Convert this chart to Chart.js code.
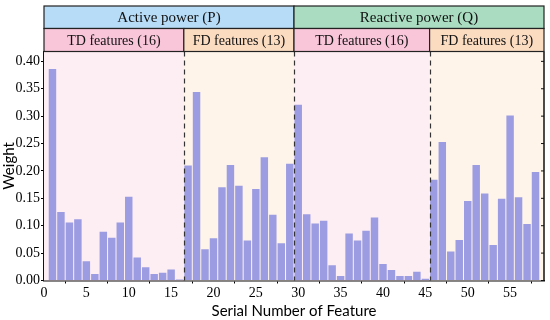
<!DOCTYPE html>
<html>
<head>
<meta charset="utf-8">
<script src="https://cdn.jsdelivr.net/npm/chart.js@4.4.0/dist/chart.umd.min.js"></script>
<style>
  html, body { margin: 0; padding: 0; background: #fff; }
  #wrap { width: 550px; height: 320px; }
</style>
</head>
<body>
<div id="wrap"><canvas id="weightChart" width="550" height="320"></canvas></div>
<script>
// Feature numbers and their weights
const featureIds = [
  1, 2, 3, 4, 5, 6, 7, 8, 9, 10, 11, 12, 13, 14, 15, 16,
  17, 18, 19, 20, 21, 22, 23, 24, 25, 26, 27, 28, 29,
  30, 31, 32, 33, 34, 35, 36, 37, 38, 39, 40, 41, 42, 43, 44, 45,
  46, 47, 48, 49, 50, 51, 52, 53, 54, 55, 56, 57, 58
];
const weights = [
  0.386, 0.125, 0.106, 0.112, 0.035, 0.012, 0.089, 0.078, 0.106, 0.153, 0.042, 0.024, 0.012, 0.014, 0.020, 0.002,
  0.210, 0.344, 0.057, 0.077, 0.170, 0.211, 0.173, 0.073, 0.167, 0.225, 0.120, 0.068, 0.213,
  0.321, 0.121, 0.104, 0.109, 0.028, 0.008, 0.086, 0.073, 0.091, 0.115, 0.030, 0.019, 0.008, 0.008, 0.016, 0.003,
  0.184, 0.253, 0.053, 0.074, 0.145, 0.211, 0.159, 0.065, 0.149, 0.301, 0.152, 0.103, 0.198
];

// Header groups
const powerLabels = ['Active power (P)', 'Reactive power (Q)'];
const powerCounts = [29, 29];
const domainLabels = ['TD features (16)', 'FD features (13)', 'TD features (16)', 'FD features (13)'];
const domainCounts = [16, 13, 16, 13];

const powerColors = ['#b6dcf7', '#a9dcc0'];
const domainColors = ['#f8c5d9', '#fbdcc0'];
const regionColors = ['#fdeef3', '#fef4ea'];

// Turn counts into [start, end] ranges on the feature axis
function ranges(counts) {
  let out = [];
  let start = 0.5;
  for (let i in counts) {
    out.push([start, start + counts[i]]);
    start += counts[i];
  }
  return out;
}
const domainRanges = ranges(domainCounts);
const powerRanges = ranges(powerCounts);

const serif = 'Liberation Serif';
const sans = 'Lato';

const headerPlugin = {
  id: 'headers',
  beforeDatasetsDraw(chart) {
    const ctx = chart.ctx;
    const area = chart.chartArea;
    const xs = chart.scales.x;
    ctx.save();
    domainRanges.forEach(function(r, i) {
      let x1 = i === 0 ? area.left : xs.getPixelForValue(r[0]);
      let x2 = i === domainRanges.length - 1 ? area.right : xs.getPixelForValue(r[1]);
      ctx.fillStyle = regionColors[i % 2];
      ctx.fillRect(x1, area.top, x2 - x1, area.bottom - area.top);
    });
    ctx.restore();
  },
  afterDraw(chart) {
    const ctx = chart.ctx;
    const area = chart.chartArea;
    const xs = chart.scales.x;
    const top1 = 6;
    const top2 = 28.5;
    ctx.save();

    // dashed separators
    ctx.strokeStyle = '#333';
    ctx.lineWidth = 1.2;
    ctx.setLineDash([5, 4]);
    for (let i = 0; i < domainRanges.length - 1; i++) {
      let x = Math.round(xs.getPixelForValue(domainRanges[i][1])) + 0.5;
      ctx.beginPath();
      ctx.moveTo(x, area.top);
      ctx.lineTo(x, area.bottom);
      ctx.stroke();
    }
    ctx.setLineDash([]);

    // right frame with small inward ticks
    ctx.strokeStyle = '#111';
    ctx.lineWidth = 1.5;
    ctx.beginPath();
    ctx.moveTo(area.right, area.top);
    ctx.lineTo(area.right, area.bottom);
    ctx.stroke();
    const ys = chart.scales.y;
    ctx.lineWidth = 1;
    ys.ticks.forEach(function(t) {
      let y = ys.getPixelForValue(t.value);
      ctx.beginPath();
      ctx.moveTo(area.right - 3, y);
      ctx.lineTo(area.right, y);
      ctx.stroke();
    });

    // header bands
    function band(rs, labels, colors, y1, y2, size) {
      rs.forEach(function(r, i) {
        let x1 = i === 0 ? area.left : xs.getPixelForValue(r[0]);
        let x2 = i === rs.length - 1 ? area.right : xs.getPixelForValue(r[1]);
        ctx.fillStyle = colors[i % colors.length];
        ctx.fillRect(x1, y1, x2 - x1, y2 - y1);
        ctx.strokeStyle = '#222';
        ctx.lineWidth = 1.2;
        ctx.strokeRect(x1, y1, x2 - x1, y2 - y1);
        ctx.fillStyle = '#111';
        ctx.font = size + 'px "' + serif + '"';
        ctx.textAlign = 'center';
        ctx.textBaseline = 'middle';
        ctx.fillText(labels[i], (x1 + x2) / 2, (y1 + y2) / 2 + 1);
      });
    }
    band(powerRanges, powerLabels, powerColors, top1, top2, 15);
    band(domainRanges, domainLabels, domainColors, top2, area.top, 14);
    ctx.restore();
  }
};

const points = featureIds.map(function(id, i) { return { x: id, y: weights[i] }; });

const weightChart = new Chart(document.querySelector('#weightChart'), {
  type: 'bar',
  data: {
    datasets: [
      {
        data: points,
        backgroundColor: '#9c9ce2',
        borderWidth: 0,
        barPercentage: 0.88,
        categoryPercentage: 1.0
      }
    ]
  },
  options: {
    responsive: false,
    animation: false,
    layout: { padding: { top: 51.5, right: 6, left: 0, bottom: 0 } },
    plugins: {
      legend: { display: false },
      tooltip: { enabled: false }
    },
    scales: {
      x: {
        type: 'linear',
        min: 0,
        max: 59,
        offset: false,
        afterFit: function(scale) { scale.height = 39.5; },
        ticks: {
          stepSize: 5,
          includeBounds: false,
          maxRotation: 0,
          padding: 1,
          color: '#000',
          font: { family: serif, size: 14 }
        },
        grid: { drawOnChartArea: false, tickLength: 3, color: '#000' },
        border: { color: '#111', width: 1.5 },
        title: {
          display: true,
          text: 'Serial Number of Feature',
          color: '#000',
          font: { family: sans, size: 15 },
          padding: { top: 2, bottom: 0 }
        }
      },
      y: {
        min: 0,
        max: 0.418,
        afterFit: function(scale) { scale.width = 44; },
        ticks: {
          stepSize: 0.05,
          includeBounds: false,
          padding: 1,
          color: '#000',
          font: { family: serif, size: 14 },
          callback: function(v) { return v.toFixed(2); }
        },
        grid: { drawOnChartArea: false, tickLength: 3, color: '#000' },
        border: { color: '#111', width: 1.5 },
        title: {
          display: true,
          text: 'Weight',
          color: '#000',
          font: { family: sans, size: 15 },
          padding: { top: 0, bottom: 0 }
        }
      }
    }
  },
  plugins: [headerPlugin]
});
</script>
</body>
</html>
